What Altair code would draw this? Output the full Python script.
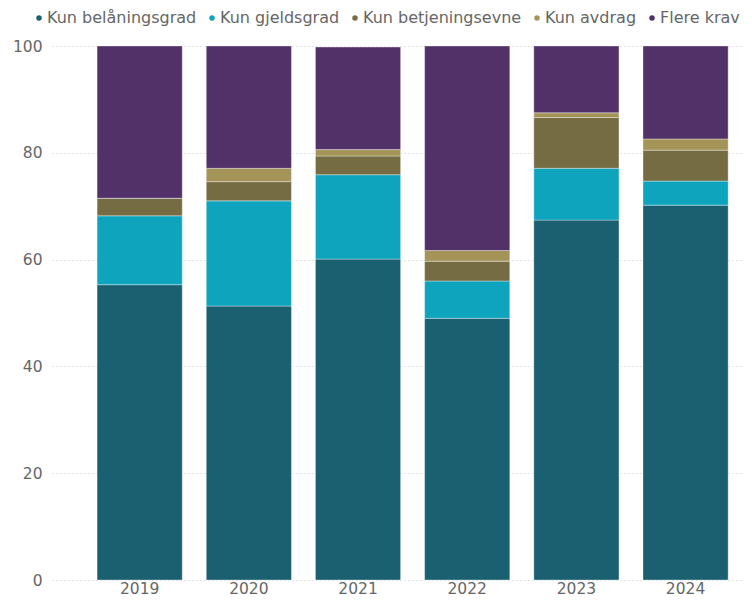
import altair as alt
import pandas as pd

years = ["2019", "2020", "2021", "2022", "2023", "2024"]
categories = ["Kun belåningsgrad", "Kun gjeldsgrad", "Kun betjeningsevne", "Kun avdrag", "Flere krav"]
belaning = [55.3, 51.3, 60.1, 49.0, 67.4, 70.2]
gjeld = [12.9, 19.7, 15.8, 7.0, 9.7, 4.5]
betjening = [3.3, 3.6, 3.5, 3.7, 9.5, 5.8]
avdrag = [0.0, 2.5, 1.2, 2.0, 0.9, 2.1]
flere = [28.5, 22.9, 19.2, 38.3, 12.5, 17.4]
colors = ["#1A6070", "#0EA4BE", "#766C44", "#A49458", "#523068"]

series = [belaning, gjeld, betjening, avdrag, flere]
rows = []
for ci, (cat, vals) in enumerate(zip(categories, series)):
    for y, v in zip(years, vals):
        rows.append({"year": y, "cat": cat, "value": v, "order": ci})
df = pd.DataFrame(rows)

FONT = "DejaVu Sans"
TXT = "#666666"

chart = alt.Chart(df).mark_bar(
    stroke="white", strokeOpacity=0.35, strokeWidth=1
).encode(
    x=alt.X("year:N", sort=years, title=None,
            scale=alt.Scale(paddingInner=0.22, paddingOuter=0.279, align=0.74),
            axis=alt.Axis(labelAngle=0, ticks=False, domain=False, grid=False,
                          labelFont=FONT, labelFontSize=15.5, labelColor=TXT,
                          labelPadding=1)),
    y=alt.Y("value:Q", stack="zero", title=None,
            scale=alt.Scale(domain=[0, 100], nice=False),
            axis=alt.Axis(values=[0, 20, 40, 60, 80, 100], ticks=False, domain=False,
                          labelFont=FONT, labelFontSize=15.5, labelColor=TXT,
                          labelPadding=10, gridColor="#C8C8C8", gridDash=[1, 3],
                          gridWidth=1)),
    color=alt.Color("cat:N", sort=categories, title=None,
                    scale=alt.Scale(domain=categories, range=colors),
                    legend=alt.Legend(orient="none", direction="horizontal",
                                      legendX=-21, legendY=-36, padding=0,
                                      symbolType="circle", symbolSize=30,
                                      symbolStrokeWidth=0, symbolOffset=0,
                                      labelOffset=0, labelLimit=400,
                                      columnPadding=7, labelFont=FONT,
                                      labelFontSize=16, labelColor=TXT)),
    order=alt.Order("order:Q", sort="ascending"),
).properties(
    width=692, height=534,
    autosize=alt.AutoSizeParams(type="none"),
    padding={"left": 44, "top": 38, "right": 0, "bottom": 16},
).configure_view(stroke=None)

chart.save("out.html", embed_options={"renderer": "svg", "actions": False})
